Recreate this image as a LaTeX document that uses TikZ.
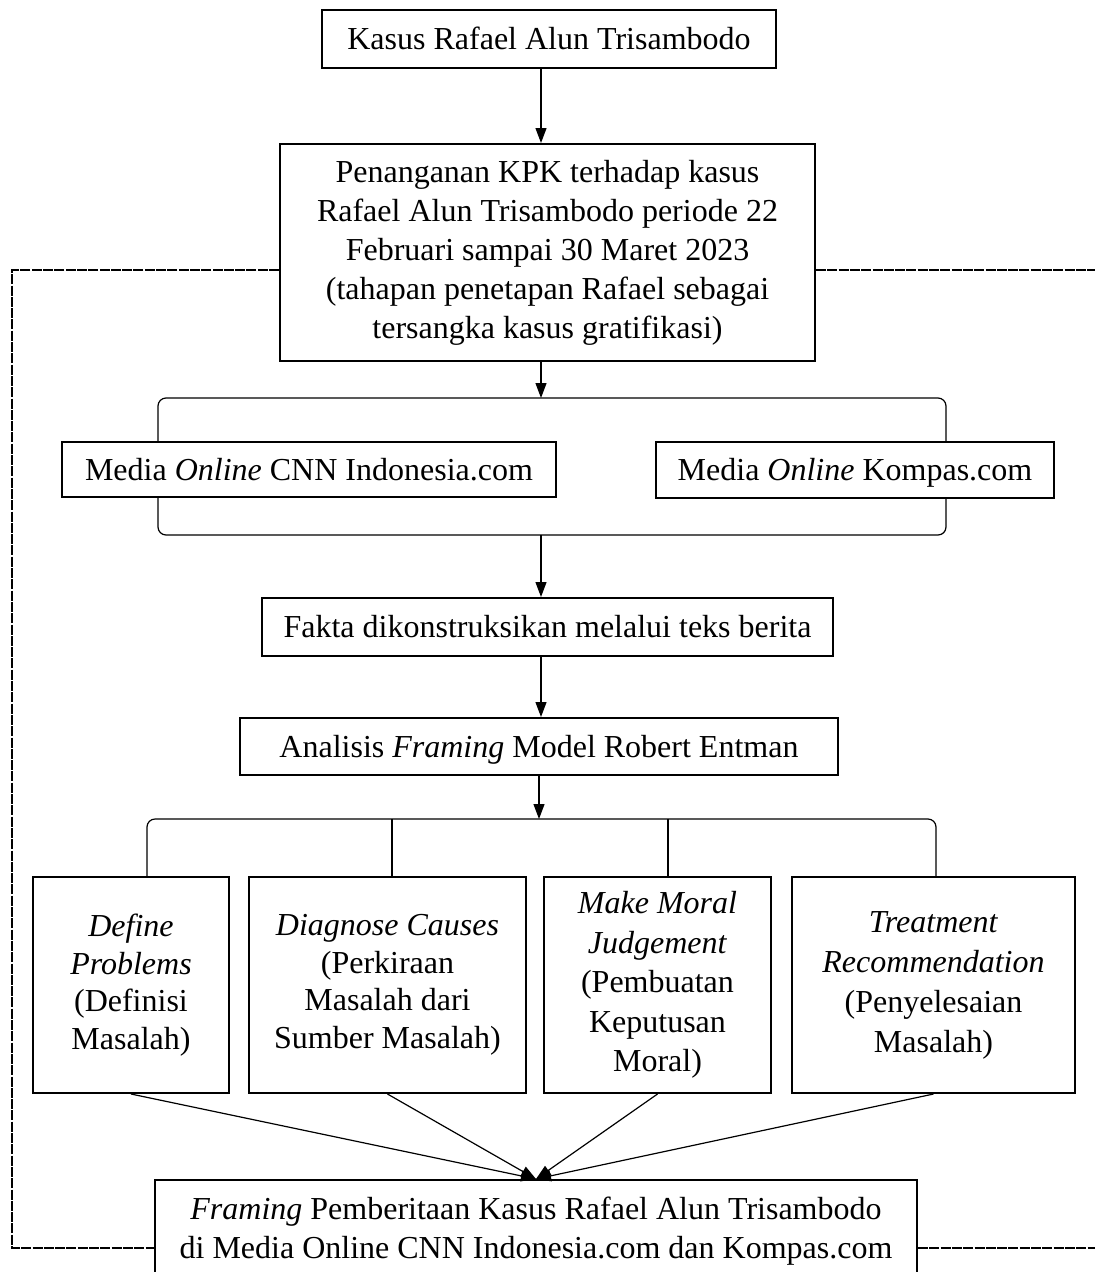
\documentclass[tikz,border=0pt]{standalone}
\usepackage{fontspec}
\setmainfont{Liberation Serif}
\usetikzlibrary{arrows.meta}
\begin{document}
\begin{tikzpicture}[x=1pt,y=-1pt,
  box/.style={draw, line width=2pt, inner sep=0pt, align=center, font=\fontsize{32}{38.5}\selectfont},
  one/.style={text height=25pt, text depth=4pt},
  conn/.style={line width=1.2pt},
  arr/.style={conn, -{Triangle[length=15pt,width=11pt]}},
  brace/.style={conn, rounded corners=8pt},
  dsh/.style={line width=1.5pt, dash pattern=on 10pt off 1.3pt}]
\clip (0,0) rectangle (1095,1272);
\useasboundingbox (0,0) rectangle (1095,1272);
% helper coordinates
\coordinate (ax) at (541,0);
\coordinate (bx) at (539,0);
\coordinate (dy1) at (0,270);
\coordinate (dy2) at (0,1248);
\coordinate (lt) at (12,270);
\coordinate (lb) at (12,1248);
\coordinate (rt) at (1095,270);
\coordinate (rb) at (1095,1248);
\coordinate (b1t) at (0,398);
\coordinate (b1b) at (0,535);
\coordinate (b2t) at (0,819);
% nodes
\node[box, one, minimum width=454, minimum height=58] (k) at (549,39) {Kasus Rafael Alun Trisambodo};
\node[box, minimum width=535, minimum height=217, font=\fontsize{32}{39}\selectfont] (p) at (547.5,252.5) {Penanganan KPK terhadap kasus\\Rafael Alun Trisambodo periode 22\\Februari sampai 30 Maret 2023\\(tahapan penetapan Rafael sebagai\\tersangka kasus gratifikasi)};
\node[box, one, minimum width=494, minimum height=55] (cnn) at (309,469.5) {Media \textit{Online} CNN Indonesia.com};
\node[box, one, minimum width=398, minimum height=56] (kom) at (855,470) {Media \textit{Online} Kompas.com};
\node[box, one, minimum width=571, minimum height=58] (f) at (547.5,627) {Fakta dikonstruksikan melalui teks berita};
\node[box, one, minimum width=598, minimum height=57] (a) at (539,746.5) {Analisis \textit{Framing} Model Robert Entman};
\node[box, minimum width=196, minimum height=216, font=\fontsize{32}{37.5}\selectfont] (d1) at (131,985) {\textit{Define}\\\textit{Problems}\\(Definisi\\Masalah)};
\node[box, minimum width=277, minimum height=216, font=\fontsize{32}{37.5}\selectfont] (d2) at (387.5,985) {\textit{Diagnose Causes}\\(Perkiraan\\Masalah dari\\Sumber Masalah)};
\node[box, minimum width=227, minimum height=216, font=\fontsize{32}{39.5}\selectfont] (d3) at (657.5,985) {\textit{Make Moral}\\\textit{Judgement}\\(Pembuatan\\Keputusan\\Moral)};
\node[box, minimum width=283, minimum height=216, font=\fontsize{32}{40}\selectfont] (d4) at (933.5,985) {\textit{Treatment}\\\textit{Recommendation}\\(Penyelesaian\\Masalah)};
\node[box, minimum width=762, minimum height=102] (bb) at (536,1231) {\textit{Framing} Pemberitaan Kasus Rafael Alun Trisambodo\\di Media Online CNN Indonesia.com dan Kompas.com};
% arrows
\draw[arr] (k.south -| ax) -- (p.north -| ax);
\draw[arr] (p.south -| ax) -- (b1t -| ax);
\draw[arr] (b1b -| ax) -- (f.north -| ax);
\draw[arr] (f.south -| ax) -- (a.north -| ax);
\draw[arr] (a.south -| bx) -- (b2t -| bx);
% upper brace
\draw[brace] (cnn.north -| 158,0) -- (158,398) -- (946,398) -- (kom.north -| 946,0);
\draw[brace] (cnn.south -| 158,0) -- (158,535) -- (946,535) -- (kom.south -| 946,0);
% lower brace
\draw[brace] (d1.north -| 147,0) -- (147,819) -- (936,819) -- (d4.north -| 936,0);
\draw[conn] (d2.north -| 392,0) -- (392,819);
\draw[conn] (d3.north -| 668,0) -- (668,819);
% converging
\foreach \n in {d1,d2,d3,d4} \draw[arr] (\n.south) -- (bb.north);
% dashed feedback
\draw[dsh] (p.west |- dy1) -- (lt) -- (lb) -- (bb.west |- dy2);
\draw[dsh] (p.east |- dy1) -- (rt);
\draw[dsh] (bb.east |- dy2) -- (rb);
\end{tikzpicture}
\end{document}
